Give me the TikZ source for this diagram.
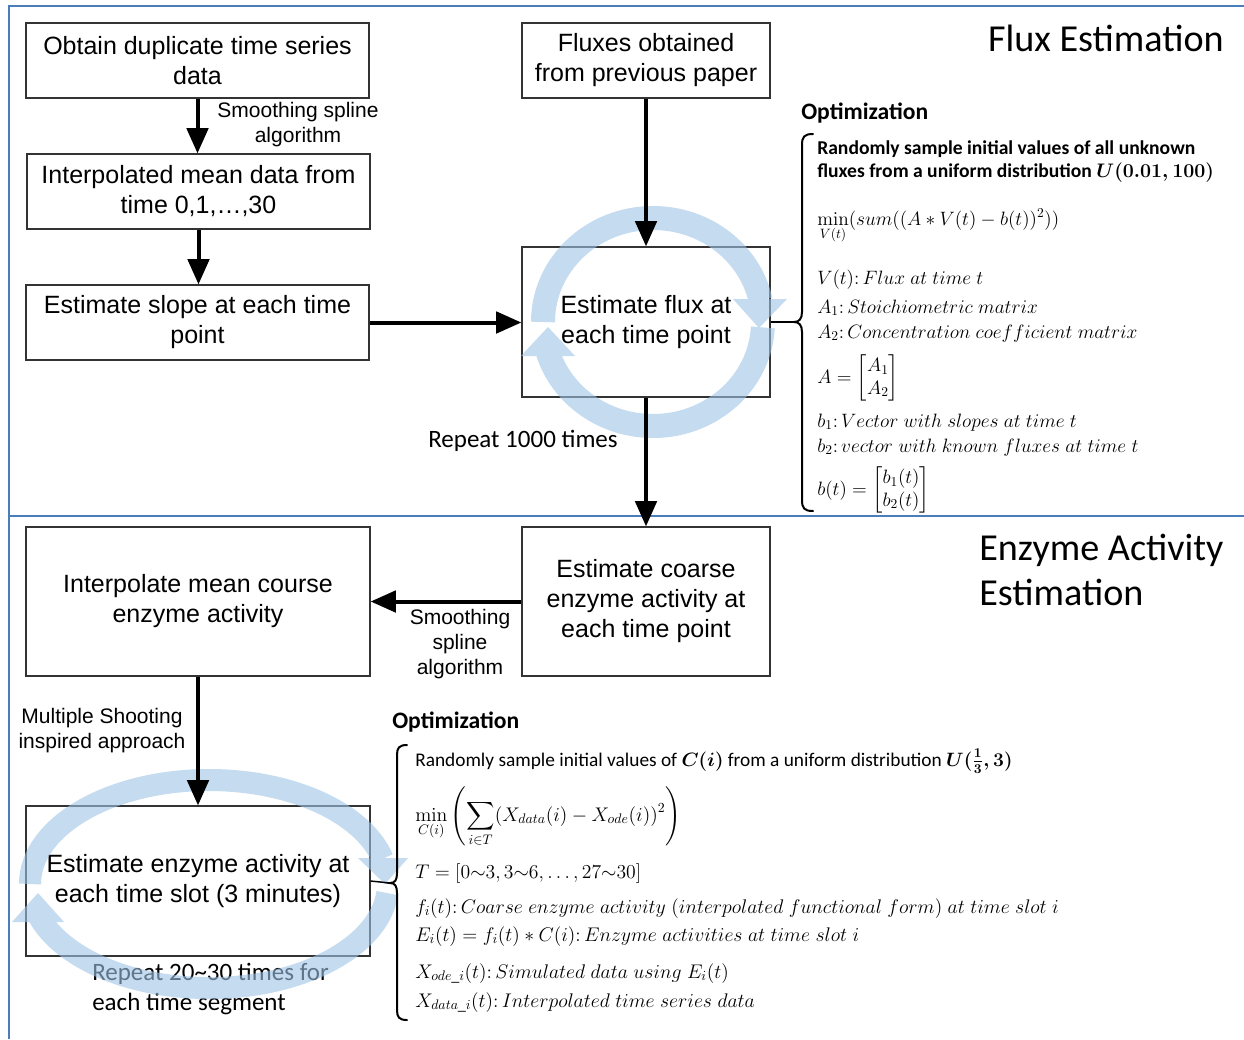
\RequirePackage{fix-cm}
\documentclass[tikz,border=0pt]{standalone}
\usepackage{amsmath,amssymb}
\usepackage[no-math]{fontspec}
\setmainfont{Liberation Sans}
\newfontfamily\calibri{Carlito}
\usetikzlibrary{arrows.meta}

\definecolor{frameblue}{RGB}{74,126,187}
\definecolor{ringblue}{RGB}{157,195,230}

\newcommand{\boxfont}{\fontsize{18.75pt}{22.5pt}\selectfont}
\newcommand{\lblfont}{\fontsize{15.75pt}{18.75pt}\selectfont}
\newcommand{\repfont}{\calibri\fontsize{18.75pt}{22.5pt}\selectfont}
\newcommand{\titlefont}{\calibri\fontsize{28.6pt}{33.75pt}\selectfont}
\newcommand{\optfont}{\calibri\bfseries\fontsize{17.7pt}{20pt}\selectfont}
\newcommand{\mathtxt}{\fontsize{14.5pt}{17pt}\selectfont}
\newcommand{\mathtxtlow}{\fontsize{14.8pt}{17pt}\selectfont}
\newcommand{\randfont}{\calibri\fontsize{14.7pt}{17pt}\selectfont}
\newcommand{\randfontlow}{\calibri\fontsize{14.5pt}{17pt}\selectfont}

\tikzset{
  box/.style={draw=black!80, line width=0.9pt, align=center, font=\boxfont, inner sep=0pt},
  arr/.style={line width=3pt, -{Triangle[length=19pt, width=16pt]}},
  lbl/.style={align=center, font=\lblfont, inner sep=0pt},
  rep/.style={font=\repfont, inner sep=0pt},
  mtxt/.style={anchor=base west, font=\mathtxt, inner sep=0pt},
  mtxtlow/.style={anchor=base west, font=\mathtxtlow, inner sep=0pt},
  brace/.style={line width=1.5pt, line cap=round},
  link/.style={line width=1.1pt},
  frame/.style={draw=frameblue, line width=1.5pt},
  ring/.style={draw=ringblue, line width=#1},
  ring/.default=16.5pt,
  ringtip/.style={fill=ringblue},
}

\begin{document}
\begin{tikzpicture}[x=0.75pt, y=-0.75pt]
\path[use as bounding box] (0,0) rectangle (1244,1039);
\fill[white] (0,0) rectangle (1244,1039);

% section frame
\draw[frame] (1244,6) -- (9,6) -- (9,1039);
\draw[frame] (9,516) -- (1244,516);

% section titles
\node[font=\titlefont, anchor=east, inner sep=0pt] (title1) at (1224,38) {Flux Estimation};
\node[font=\titlefont, anchor=west, align=left, inner sep=0pt] (title2) at (979,570) {Enzyme Activity\\Estimation};

% process boxes
\node[box, minimum width=257.25pt, minimum height=56.25pt] (b1) at (197.5,60.5) {Obtain duplicate time series\\data};
\node[box, minimum width=257.25pt, minimum height=56.25pt] (b2) at (198.5,191.5) {Interpolated mean data from\\time 0,1,\dots,30};
\node[box, minimum width=257.25pt, minimum height=56.25pt] (b3) at (197.5,322.5) {Estimate slope at each time\\point};
\node[box, minimum width=186pt, minimum height=56.25pt] (b4) at (646,60.5) {Fluxes obtained\\from previous paper};
\node[box, minimum width=186pt, minimum height=112.5pt] (b5) at (646,322) {Estimate flux at\\each time point};
\node[box, minimum width=186pt, minimum height=111.75pt] (b6) at (646,601.5) {Estimate coarse\\enzyme activity at\\each time point};
\node[box, minimum width=258pt, minimum height=111.75pt] (b7) at (198,601.5) {Interpolate mean course\\enzyme activity};
\node[box, minimum width=258pt, minimum height=112.5pt] (b8) at (198,881) {Estimate enzyme activity at\\each time slot (3 minutes)};

% arrow labels
\node[lbl] (s1) at (298,125) {Smoothing spline\\algorithm};
\node[lbl] (s2) at (460,644) {Smoothing\\spline\\algorithm};
\node[lbl] (s3) at (102,731) {Multiple Shooting\\inspired approach};
\node[rep] (r1) at (523,441) {Repeat 1000 times};
\node[rep, anchor=west, align=left] (r2) at (92,989) {Repeat 20\textasciitilde30 times for\\each time segment};

% repeat loops (translucent circular arrows)
\begin{scope}[transparency group, opacity=0.6]
  \draw[ring=18pt] (543,322) arc[start angle=-180, end angle=-12, x radius=110, y radius=104];
  \fill[ringtip] (733,299) -- (787,299) -- (759,328) -- cycle;
  \draw[ring=18pt] (762.85,327.44) arc[start angle=3, end angle=163, x radius=110, y radius=104];
  \fill[ringtip] (521,356) -- (575,356) -- (548,327) -- cycle;
\end{scope}
\begin{scope}[transparency group, opacity=0.6]
  \draw[ring] (30,884) arc[start angle=-180, end angle=-14, x radius=179, y radius=104];
  \fill[ringtip] (358,858) -- (408,858) -- (385,884) -- cycle;
  \draw[ring] (387.3,893.1) arc[start angle=5, end angle=162, x radius=179, y radius=104];
  \fill[ringtip] (12,922) -- (64,922) -- (38,893) -- cycle;
\end{scope}

% flow arrows
\draw[arr] (b1.south) -- (b1.south |- b2.north);
\draw[arr] (b2.south) -- (b2.south |- b3.north);
\draw[arr] (b3.east) -- (b3.east -| b5.west);
\draw[arr] (b4.south) -- (b5.north);
\draw[arr] (b5.south) -- (b6.north);
\draw[arr] (b6.west) -- (b6.west -| b7.east);
\draw[arr] (b7.south) -- (b7.south |- b8.north);

% optimisation notes, flux part
\node[font=\optfont, anchor=west, inner sep=0pt] (o1) at (801,113) {Optimization};
\coordinate (ucusp) at (794,322);
\draw[link] (b5.east) -- (ucusp);
\draw[brace] (813,134) .. controls (804,134) and (802,137) .. (802,145) -- (802,312)
  .. controls (802,319) and (799,322) .. (ucusp) .. controls (799,322) and (802,325) .. (802,332)
  -- (802,500) .. controls (802,508) and (804,511) .. (813,511);
\node[mtxt] (u1) at (817,154) {\randfont\bfseries Randomly sample initial values of all unknown};
\node[mtxt] (u2) at (817,177) {\randfont\bfseries fluxes from a uniform distribution $\boldsymbol{U(0.01,100)}$};
\node[mtxt] (u3) at (817,225) {$\min\limits_{V(t)}(sum((A\ast V(t)-b(t))^2))$};
\node[mtxt] (u4) at (817,284) {$V(t){:}\,Flux\ at\ time\ t$};
\node[mtxt] (u5) at (817,313) {$A_1{:}\,Stoichiometric\ matrix$};
\node[mtxt] (u6) at (817,338) {$A_2{:}\,Concentration\ coefficient\ matrix$};
\node[mtxt, text height=20pt, text depth=11pt] (u7) at (817,383) {$A=\begin{bmatrix}A_1\\A_2\end{bmatrix}$};
\node[mtxt] (u8) at (817,427) {$b_1{:}\,Vector\ with\ slopes\ at\ time\ t$};
\node[mtxt] (u9) at (817,452) {$b_2{:}\,vector\ with\ known\ fluxes\ at\ time\ t$};
\node[mtxt, text height=21pt, text depth=11pt] (u10) at (817,495) {$b(t)=\begin{bmatrix}b_1(t)\\b_2(t)\end{bmatrix}$};

% optimisation notes, enzyme part
\node[font=\optfont, anchor=west, inner sep=0pt] (o2) at (392,722) {Optimization};
\coordinate (lcusp) at (390,883);
\draw[link] (b8.east) -- (lcusp);
\draw[brace] (407,745) .. controls (399,745) and (397,748) .. (397,755) -- (397,873)
  .. controls (397,880) and (395,883) .. (lcusp) .. controls (395,883) and (397,886) .. (397,893)
  -- (397,1010) .. controls (397,1017) and (399,1020) .. (407,1020);
\node[mtxtlow] (l1) at (415,766) {\randfontlow Randomly sample initial values of $\boldsymbol{C(i)}$ from a uniform distribution $\boldsymbol{U(\frac{1}{3},3)}$};
\node[mtxtlow] (l2) at (415,821) {$\displaystyle\min_{C(i)}\left(\sum_{i\in T}(X_{data}(i)-X_{ode}(i))^2\right)$};
\node[mtxtlow] (l3) at (415,878) {$T=[0{\sim}3,3{\sim}6,\ldots,27{\sim}30]$};
\node[mtxtlow] (l4) at (415,913) {$f_i(t){:}\,Coarse\ enzyme\ activity\ (interpolated\ functional\ form)\ at\ time\ slot\ i$};
\node[mtxtlow] (l5) at (415,941) {$E_i(t)=f_i(t)\ast C(i){:}\,Enzyme\ activities\ at\ time\ slot\ i$};
\node[mtxtlow] (l6) at (415,978) {$X_{ode\_i}(t){:}\,Simulated\ data\ using\ E_i(t)$};
\node[mtxtlow] (l7) at (415,1007) {$X_{data\_i}(t){:}\,Interpolated\ time\ series\ data$};
\end{tikzpicture}
\end{document}
